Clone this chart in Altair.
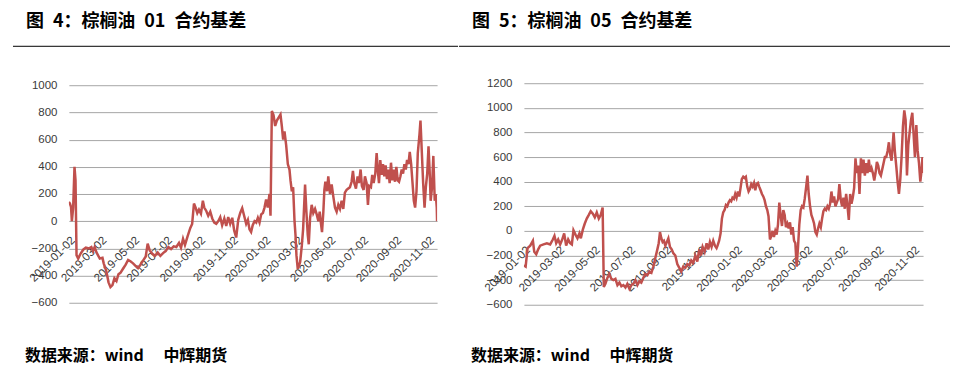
import altair as alt
import pandas as pd

START = "2019-01-02"
END = "2020-11-19"

label_dates = ["2019-01-02", "2019-03-02", "2019-05-02", "2019-07-02", "2019-09-02", "2019-11-02",
               "2020-01-02", "2020-03-02", "2020-05-02", "2020-07-02", "2020-09-02", "2020-11-02"]

y_ticks_01 = [-600, -400, -200, 0, 200, 400, 600, 800, 1000]
y_ticks_05 = [-600, -400, -200, 0, 200, 400, 600, 800, 1000, 1200]

# days after 2019-01-02
days_01 = [0, 2, 4, 5.6, 8, 10.5, 12.4, 14.3, 17.4, 21.7,
           26.7, 31.7, 37.9, 42, 45, 48, 51.5, 57.7, 62.7, 65,
           70, 74, 77.6, 81.3, 85, 88.8, 92.5, 96.2, 101, 106,
           110.5, 114.8, 119.8, 124.8, 129, 133.5, 138.4, 143.4, 147, 150.8,
           155.8, 160.8, 165.7, 170.7, 175.7, 180.6, 185.6, 190.6, 195.5, 200.5,
           205.5, 209.2, 213, 216.6, 221.6, 226.6, 230, 233.4, 236.5, 239.6,
           242.7, 246.4, 250, 252.6, 256.4, 260, 263.8, 267.5, 271.3, 275,
           278.7, 282.4, 286, 290, 293.6, 297.3, 301, 304.8, 308.5, 312.2,
           316, 319.7, 323.4, 327, 330.8, 334, 337, 340, 343, 346.4,
           349.5, 352.6, 355.7, 358.8, 362, 365, 368, 371, 374.3, 376.2,
           378.7, 381.8, 384.9, 388, 391, 394.8, 397.3, 399.8, 402.3, 405.4,
           408.5, 411.6, 413.5, 416, 418.4, 421, 422.8, 424.6, 427, 429,
           431.5, 434.6, 437, 440.7, 443, 445.7, 447.6, 450, 453, 456,
           459.3, 462.4, 465.5, 468, 470.4, 472.3, 474.8, 476.7, 478.6, 481.7,
           484, 487.2, 490.3, 493.4, 496.5, 499.6, 502.7, 505.8, 508.9, 512,
           515, 518.2, 521.3, 524.4, 527.5, 530, 532.5, 535.6, 538.7, 541.2,
           544.3, 546.7, 549.9, 552.4, 555.5, 558, 560.4, 563.6, 566, 568.6,
           571.7, 574.2, 576.7, 578.6, 581, 583.6, 586, 588.5, 591, 593.5,
           596, 598.5, 601, 603.5, 606, 608.5, 611, 613.6, 616, 618.6,
           621, 623.5, 626, 628.6, 631, 633.6, 636, 638.6, 641, 643.6,
           646, 648.6, 651, 654.2, 656, 658.6, 661, 663.6, 666, 668.6,
           671, 673, 675, 677.6, 680, 682.6, 684.5, 686.4, 687]
basis_01 = [142, 130, 105, 0, 100, 400, 300, -250, -275, -240,
            -210, -195, -200, -190, -220, -190, -230, -275, -270, -310,
            -370, -450, -485, -470, -420, -440, -390, -380, -350, -320,
            -285, -295, -310, -330, -345, -320, -290, -260, -165, -215,
            -240, -255, -230, -255, -235, -220, -190, -205, -185, -190,
            -160, -195, -130, -175, -110, -50, -20, 130, 100, 60,
            85, 55, 150, 100, 75, 40, 70, 20, -10, -20,
            0, 30, -30, 20, -35, 30, -20, 25, -70, -120,
            10, 60, 95, 40, -20, 10, -60, -80, -30, 0,
            -10, 25, -10, 50, 60, 100, 160, 100, 200, 40,
            810, 780, 700, 740, 760, 785, 700, 600, 660, 560,
            420, 380, 300, 220, 250, 0, -100, -250, -350, -330,
            -300, -180, -60, 270, 80, -100, -170, 20, 120, 60,
            90, 50, 0, 70, -20, -80, 70, 230, 290, 220,
            330, 200, 270, 180, 100, 70, 120, 90, 150, 90,
            210, 230, 240, 250, 290, 370, 280, 240, 330, 280,
            380, 260, 230, 330, 280, 120, 260, 250, 340, 280,
            350, 500, 360, 280, 450, 340, 420, 330, 410, 310,
            380, 280, 430, 300, 380, 290, 400, 300, 290, 330,
            380, 350, 420, 380, 450, 420, 510, 420, 290, 150,
            100, 220, 500, 640, 740, 500, 280, 100, 250, 350,
            550, 380, 150, 250, 480, 150, 200, 100, 0]

days_05 = [0, 3, 6.3, 10.9, 15.5, 17.8, 21.2, 24.6, 28, 33.8,
           39.5, 45.2, 49.8, 52.6, 55.6, 59, 62.4, 65.9, 69.3, 72.7,
           76.2, 79.6, 82.5, 85.3, 88.8, 92.2, 95.6, 98, 101.4, 104.8,
           108.2, 111.7, 115, 118.6, 122, 125.4, 128.9, 132.3, 135.5, 137.5,
           140.3, 143.8, 147.2, 150.6, 154, 157.5, 161, 164.4, 167.8, 171.2,
           174.7, 178, 181.6, 185, 188.4, 191.9, 195.3, 198.7, 202, 205.6,
           209, 212.5, 216, 219.4, 222.8, 226.2, 229.7, 232, 234.2, 236.5,
           238.8, 241, 243.4, 248.6, 251.4, 254.3, 257, 260.6, 264, 267.5,
           271, 274.3, 277.8, 281.2, 284.6, 288, 291.5, 295, 298.4, 301.8,
           304.7, 307.6, 311, 314.4, 317.3, 320.2, 323, 325.9, 328.8, 331.6,
           333.3, 336, 338.5, 340.8, 343, 345.4, 347.7, 350, 352.2, 354.5,
           356.8, 359, 361.4, 363.7, 366, 368.3, 370.6, 372.9, 375, 377.5,
           379.8, 382, 384.4, 386.7, 389, 391.3, 393.6, 396, 398.2, 400.5,
           402.8, 405, 407.4, 409.7, 412, 414.3, 416.6, 418.9, 421, 423.5,
           425.8, 428, 430.3, 432.7, 435, 437.3, 439.6, 442, 444.2, 446.5,
           448.8, 451, 453.4, 455.7, 458, 460.3, 462.6, 465, 467.2, 469.5,
           471.8, 474, 476.4, 478.7, 481, 483.3, 485.6, 488, 490.2, 492.5,
           494.8, 497, 499.4, 501.7, 504, 506.3, 508.6, 511, 513.2, 515.5,
           517.8, 520, 522.4, 524.7, 527, 529.3, 531.6, 533.9, 536.2, 538.5,
           540.8, 543, 545.4, 547.7, 550, 552.3, 554.6, 557, 559.2, 561.5,
           563.8, 566, 568.4, 570.7, 573, 575.3, 577.6, 580, 582.2, 584.5,
           586.8, 589, 591.4, 593.7, 596, 598.3, 600.6, 603, 605.2, 607.5,
           609.8, 612, 614.4, 616.7, 619, 621.3, 623.6, 626, 628.2, 630.5,
           632.8, 636.3, 638.6, 641, 643.2, 645.5, 647.8, 650, 652.4, 654.7,
           657, 659.3, 661.6, 663.9, 666.2, 668.5, 670.8, 673, 675.4, 677.7,
           680, 682.3, 684.6, 686, 687]
basis_05 = [-280, -290, -140, -120, -80, -170, -190, -150, -120, -110,
            -100, -110, -70, -40, -100, -70, -110, -70, -20, -120,
            -70, -100, -110, 5, -30, -60, -20, -60, 10, 60,
            100, 130, 160, 140, 110, 150, 100, 130, 190, -455,
            -430, -380, -350, -390, -400, -390, -440, -420, -450, -440,
            -460, -430, -470, -440, -430, -400, -440, -410, -420, -380,
            -350, -360, -330, -340, -290, -220, -150, -100, -10, -60,
            -90, -80, -120, -60, -130, -150, -180, -200, -270, -300,
            -330, -290, -300, -270, -280, -240, -260, -200, -250, -150,
            -200, -130, -170, -100, -150, -90, -130, -80, -120, -140,
            -120, -80, -20, 100, 150, 170, 210, 200, 230, 250,
            240, 270, 260, 300, 270, 320, 280, 350, 420, 440,
            430, 440, 360, 320, 340, 380, 360, 390, 330, 380,
            390, 360, 330, 300, 280, 250, 200, 170, 120, -70,
            -40, 0, -50, 0, -30, 50, 230, 120, 40, 170,
            130, 30, 60, 20, 70, -30, 30, -80, -100, -290,
            -130, 50, 170, 200, 190, 260, 350, 450, 300, 200,
            130, 100, 60, -10, -30, 20, 60, 30, 100, 160,
            180, 170, 200, 180, 220, 320, 230, 280, 200, 230,
            260, 380, 250, 200, 270, 180, 300, 200, 90, 300,
            220, 270, 350, 590, 470, 530, 300, 590, 470, 580,
            450, 550, 470, 580, 480, 510, 470, 410, 470, 560,
            530, 470, 450, 500, 550, 600, 600, 650, 720, 620,
            570, 800, 640, 520, 400, 300, 420, 600, 850, 980,
            900, 450, 700, 800, 900, 960, 780, 600, 860, 650,
            550, 400, 500, 600, 470]

titles = ["图\u20024：棕榈油\u200201\u2002合约基差", "图\u20025：棕榈油\u200205\u2002合约基差"]
footer = "数据来源：wind\u3000 中辉期货"

LINE_COLOR = "#C0504D"
GRID_COLOR = "#a6a6a6"
LABEL_COLOR = "#3a3a3a"
CJK = "Noto Sans CJK SC"


def dt(s):
    y, m, d = map(int, s.split("-"))
    return alt.DateTime(year=y, month=m, date=d)


def one():
    return alt.Chart(pd.DataFrame({"a": [0]}))


def panel(days, vals, yticks, ydomain, w, h, zero_up, title, dx_title, rule_x, dx_footer, anchor=False):
    df = pd.DataFrame({
        "date": pd.Timestamp(START) + pd.to_timedelta(days, unit="D"),
        "basis": vals,
    })
    line = alt.Chart(df).mark_line(color=LINE_COLOR, strokeWidth=2.5, clip=True).encode(
        x=alt.X("date:T",
                scale=alt.Scale(domain=[dt(START), dt(END)]),
                axis=alt.Axis(values=[dt(s) for s in label_dates], format="%Y-%m-%d",
                              labelAngle=-45, grid=False, ticks=False, domain=False,
                              offset=-zero_up, labelPadding=13, labelFontSize=11.5,
                              labelFont="Liberation Sans", labelColor=LABEL_COLOR,
                              labelOverlap=False, labelFlush=False, labelBound=False,
                              title=None)),
        y=alt.Y("basis:Q",
                scale=alt.Scale(domain=ydomain, nice=False, zero=False),
                axis=alt.Axis(values=yticks, grid=True, gridColor=GRID_COLOR, gridWidth=1,
                              ticks=False, domain=False, labelPadding=12, labelFontSize=11.5,
                              labelFont="Liberation Sans", labelColor=LABEL_COLOR,
                              format="d", title=None)),
    )
    ttl = one().mark_text(align="left", baseline="middle", font=CJK, fontSize=18,
                          fontWeight="bold", color="#000000").encode(
        x=alt.value(dx_title), y=alt.value(-61), text=alt.value(title))
    rule = one().mark_rule(color="#000000", strokeWidth=1).encode(
        x=alt.value(rule_x[0]), x2=alt.value(rule_x[1]), y=alt.value(-37))
    foot = one().mark_text(align="left", baseline="middle", font=CJK, fontSize=16,
                           fontWeight="bold", color="#000000").encode(
        x=alt.value(dx_footer), y=alt.value(273), text=alt.value(footer))
    layers = [line, ttl, rule, foot]
    if anchor:
        layers.append(one().mark_rule(opacity=0).encode(
            x=alt.value(-61), x2=alt.value(-55), y=alt.value(-75)))
    return alt.layer(*layers).properties(width=w, height=h)


left = panel(days_01, basis_01, y_ticks_01, [-600, 1014.7], 369, 220, 81.75,
             titles[0], -43, (-56, 390), -44, anchor=True)
right = panel(days_05, basis_05, y_ticks_05, [-600, 1200], 400, 222, 74,
              titles[1], -52, (-65, 427), -53)

chart = alt.hconcat(left, right, spacing=87, bounds="flush").properties(
    padding=0, background="white"
).configure_view(stroke=None)

chart.save("out.html", embed_options={"renderer": "svg", "actions": False})
